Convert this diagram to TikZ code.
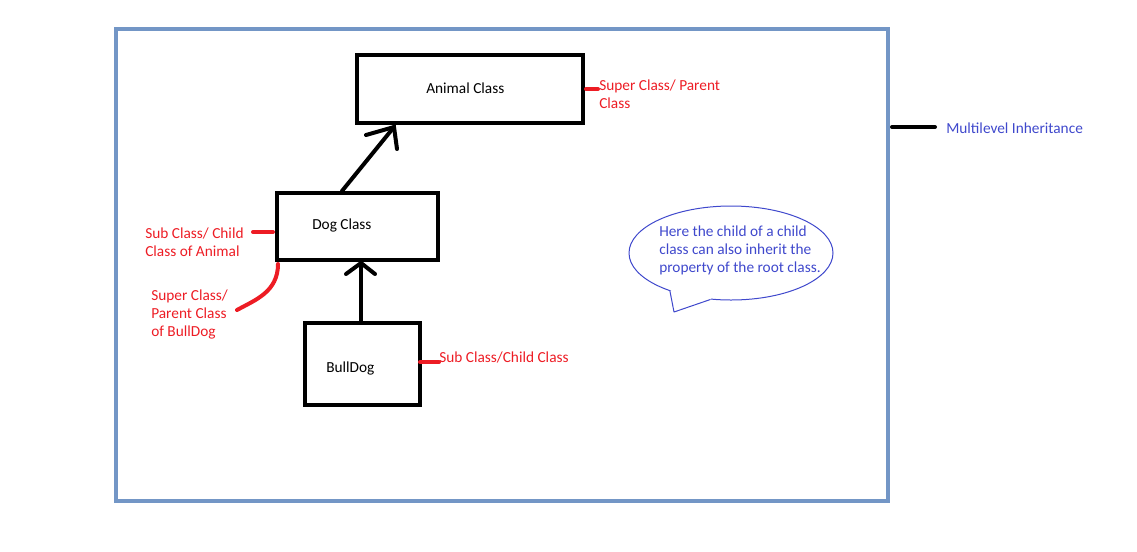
\documentclass[tikz,border=0pt]{standalone}
\usepackage{fontspec}
\setmainfont{Carlito}
\usetikzlibrary{shapes.geometric,calc}
\definecolor{pred}{RGB}{237,28,36}
\definecolor{pblue}{RGB}{63,72,204}
\definecolor{frameblue}{RGB}{115,150,198}
\begin{document}
\begin{tikzpicture}[x=0.75pt,y=-0.75pt,
  font=\fontsize{11.5}{13.5}\selectfont,
  classbox/.style={draw, line width=3pt, rectangle, inner sep=0pt},
  blackline/.style={line width=3pt, line cap=round},
  redline/.style={draw=pred, line width=3pt, line cap=round},
  redtext/.style={text=pred, anchor=base west, align=left, inner sep=0pt},
  bluetext/.style={text=pblue, anchor=base west, align=left, inner sep=0pt},
  boxlabel/.style={anchor=base west, inner sep=0pt}]
\useasboundingbox (0,0) rectangle (1137,551);
% outer frame
\node[draw=frameblue, line width=3pt, inner sep=0pt, minimum width=579pt, minimum height=354pt] (frame) at (502,265) {};
% class boxes
\node[classbox, minimum width=169.5pt, minimum height=51pt] (animal) at (470,89) {};
\node[classbox, minimum width=120.75pt, minimum height=50.25pt] (dog) at (357.5,226.5) {};
\node[classbox, minimum width=86.25pt, minimum height=61.5pt] (bull) at (362.5,364) {};
\node[boxlabel] (animallbl) at (426,93) {Animal Class};
\node[boxlabel] (doglbl) at (312,229) {Dog Class};
\node[boxlabel] (bulllbl) at (326,372) {BullDog};
% arrow dog -> animal
\coordinate (dogtop) at ($(dog.north west)+(67,0)$);
\coordinate (atip) at ($(animal.south west)+(39,2)$);
\draw[blackline] (dogtop) -- (atip);
\draw[blackline] ($(atip)+(-28,8)$) -- (atip) -- ($(atip)+(3,22)$);
% arrow bulldog -> dog
\coordinate (bulltop) at ($(bull.north)+(-1.5,0)$);
\coordinate (btip) at ($(bulltop |- dog.south)+(0,1)$);
\draw[blackline] (bulltop) -- (btip);
\draw[blackline] ($(btip)+(-15,11)$) -- (btip) -- ($(btip)+(14,11)$);
% red annotations
\node[redtext] (superlbl) at (599,108) {Super Class/ Parent\\Class};
\draw[redline] ($(animal.east)+(1,0)$) -- ++(12,0);
\node[redtext] (sublbl) at (145,256) {Sub Class/ Child\\Class of Animal};
\draw[redline] ($(dog.west)+(-2,5.5)$) -- ++(-20,0);
\node[redtext] (parentlbl) at (151,336) {Super Class/\\Parent Class\\of BullDog};
\coordinate (curveend) at (237,310);
\draw[redline] ($(dog.south west)+(3,2)$) .. controls +(0,28) and +(18,-10) .. (curveend);
\node[redtext] (childlbl) at (439,362.5) {Sub Class/Child Class};
\draw[redline] ($(bull.east)+(-2,-2)$) -- ++(19,0);
% multilevel label
\node[bluetext] (mlbl) at (946,133) {Multilevel Inheritance};
\coordinate (mstart) at ($(frame.north east)+(2,100)$);
\draw[blackline] (mstart) -- ++(43,0);
% callout
\node[ellipse, draw=pblue, line width=0.75pt, inner sep=0pt, minimum width=153pt, minimum height=70.5pt] (callout) at (731,253) {};
\coordinate (ctip) at (674,312);
\fill[white] (callout.-148) -- (ctip) -- (callout.-114) -- (callout.center) -- cycle;
\draw[pblue, line width=0.75pt, line join=round] (callout.-148) -- (ctip) -- (callout.-114);
\node[bluetext] (calloutlbl) at (659,272) {Here the child of a child\\class can also inherit the\\property of the root class.};
\end{tikzpicture}
\end{document}
